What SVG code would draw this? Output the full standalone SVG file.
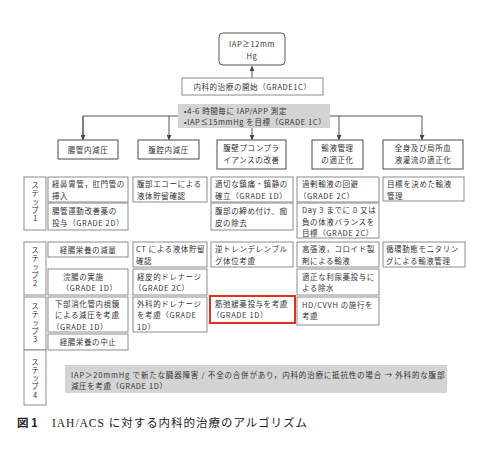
<svg xmlns="http://www.w3.org/2000/svg" width="480" height="456" viewBox="0 0 480 456">
<defs>
<marker id="ah" viewBox="0 0 6 6" refX="6" refY="3" markerWidth="5" markerHeight="5" orient="auto" markerUnits="userSpaceOnUse">
<path d="M0,0 L6,3 L0,6 z" fill="#444"/>
</marker>
<style>
.t{font-family:"Noto Sans CJK JP","Noto Sans",sans-serif;font-size:7.5px;letter-spacing:0.6px;fill:#333}
.m{text-anchor:middle}
.b{fill:#fff;stroke:#8c8c8c;stroke-width:1}
.h{fill:#fff;stroke:#4a4a4a;stroke-width:1}
.g{fill:#d4d4d4;stroke:none}
.r{fill:#fff;stroke:#e0301e;stroke-width:2}
.c{fill:none;stroke:#555;stroke-width:1}
.s{font-family:"Noto Sans CJK JP","Noto Sans",sans-serif;font-size:7.5px;letter-spacing:0.75px;fill:#333;writing-mode:vertical-rl;text-orientation:upright}
</style>
</defs>
<rect width="480" height="456" fill="#fff"/>

<g id="connectors">
<line class="c" x1="252" y1="78" x2="252" y2="66" marker-end="url(#ah)"/>
<polyline class="c" points="83,140 83,116 422,116 422,140" marker-end="url(#ah)"/>
<line class="c" x1="83" y1="116" x2="83" y2="140" marker-end="url(#ah)"/>
<line class="c" x1="169" y1="116" x2="169" y2="140" marker-end="url(#ah)"/>
<line class="c" x1="252" y1="116" x2="252" y2="140" marker-end="url(#ah)"/>
<line class="c" x1="339" y1="116" x2="339" y2="140" marker-end="url(#ah)"/>
</g>

<g id="n-iap">
<rect x="219" y="33" width="66" height="32" rx="4" fill="#fff" stroke="#555" stroke-width="1"/>
<text class="t m" x="252" y="46.5">IAP≥12mm</text>
<text class="t m" x="252" y="58.5">Hg</text>
</g>
<g id="n-start">
<rect class="b" x="182" y="78" width="141" height="17"/>
<text class="t m" x="252.5" y="89.5">内科的治療の開始（GRADE1C）</text>
</g>
<g id="n-monitor">
<rect class="g" x="178" y="104" width="152" height="24"/>
<text class="t" x="184" y="113.5">•4-6 時間毎に IAP/APP 測定</text>
<text class="t" x="184" y="125">•IAP≤15mmHg を目標（GRADE 1C）</text>
</g>

<g id="h1"><rect class="h" x="58" y="140" width="60" height="19"/><text class="t m" x="88" y="152.5">腸管内減圧</text></g>
<g id="h2"><rect class="h" x="138" y="140" width="61" height="19"/><text class="t m" x="168.5" y="152.5">腹腔内減圧</text></g>
<g id="h3"><rect class="h" x="217" y="140" width="69" height="29"/><text class="t m" x="251.5" y="151">腹壁プコンプラ</text><text class="t m" x="251.5" y="163">イアンスの改善</text></g>
<g id="h4"><rect class="h" x="312" y="140" width="51" height="29"/><text class="t m" x="337.5" y="151">輸液管理</text><text class="t m" x="337.5" y="163">の適正化</text></g>
<g id="h5"><rect class="h" x="383" y="140" width="80" height="29"/><text class="t m" x="423" y="151">全身及び局所血</text><text class="t m" x="423" y="163">液灌流の適正化</text></g>

<g id="step1"><rect class="b" x="24" y="177" width="22" height="53"/><text class="s" x="35" y="181.5">ステップ1</text></g>
<g id="step2"><rect class="b" x="24" y="242" width="22" height="53"/><text class="s" x="35" y="246.5">ステップ2</text></g>
<g id="step3"><rect class="b" x="24" y="297" width="22" height="53"/><text class="s" x="35" y="302.5">ステップ3</text></g>
<g id="step4"><rect class="b" x="24" y="350" width="22" height="55"/><text class="s" x="35" y="358">ステップ4</text></g>

<g id="c1s1a"><rect class="b" x="48" y="177" width="80" height="25"/><text class="t" x="52" y="187">経鼻胃管，肛門管の</text><text class="t" x="52" y="198.5">挿入</text></g>
<g id="c1s1b"><rect class="b" x="48" y="203" width="80" height="27"/><text class="t" x="52" y="214">腸管運動改善薬の</text><text class="t" x="52" y="226">投与（GRADE 2D）</text></g>
<g id="c1s2a"><rect class="b" x="48" y="242" width="80" height="15"/><text class="t m" x="88" y="252.5">経腸栄養の減量</text></g>
<g id="c1s2b"><rect class="b" x="48" y="269" width="80" height="26"/><text class="t" x="63" y="279.5">浣腸の実施</text><text class="t" x="61.5" y="291">（GRADE 1D）</text></g>
<g id="c1s3a"><rect class="b" x="48" y="297" width="80" height="35"/><text class="t" x="55" y="306.5">下部消化管内視鏡</text><text class="t" x="55" y="318">による減圧を考慮</text><text class="t" x="52" y="329.5">（GRADE 1D）</text></g>
<g id="c1s3b"><rect class="b" x="48" y="334" width="80" height="16"/><text class="t m" x="88" y="345">経腸栄養の中止</text></g>

<g id="c2s1"><rect class="b" x="133" y="177" width="74" height="25"/><text class="t" x="137" y="187">腹部エコーによる</text><text class="t" x="137" y="198.5">液体貯留確認</text></g>
<g id="c2s2a"><rect class="b" x="133" y="242" width="74" height="25"/><text class="t" x="136" y="252">CT による液体貯留</text><text class="t" x="136" y="263.5">確認</text></g>
<g id="c2s2b"><rect class="b" x="133" y="269" width="74" height="26"/><text class="t" x="137" y="279.5">経皮的ドレナージ</text><text class="t" x="134" y="291">（GRADE 2C）</text></g>
<g id="c2s3"><rect class="b" x="133" y="297" width="74" height="35"/><text class="t" x="137" y="306.5">外科的ドレナージ</text><text class="t" x="137" y="318">を考慮（GRADE</text><text class="t" x="137" y="329.5">1D）</text></g>

<g id="c3s1a"><rect class="b" x="211" y="177" width="82" height="25"/><text class="t" x="215" y="187">適切な鎮痛・鎮静の</text><text class="t" x="215" y="198.5">確立（GRADE 1D）</text></g>
<g id="c3s1b"><rect class="b" x="211" y="203" width="82" height="27"/><text class="t" x="215" y="214">腹部の締め付け、痂</text><text class="t" x="215" y="226">皮の除去</text></g>
<g id="c3s2"><rect class="b" x="211" y="242" width="82" height="25"/><text class="t" x="215" y="252">逆トレンデレンブル</text><text class="t" x="215" y="263.5">グ体位考慮</text></g>
<g id="c3s3"><rect class="r" x="210" y="296" width="85" height="27"/><text class="t" x="215" y="306.5">筋弛緩薬投与を考慮</text><text class="t" x="212" y="318">（GRADE 1D）</text></g>

<g id="c4s1a"><rect class="b" x="297" y="177" width="82" height="25"/><text class="t" x="302" y="187">過剰輸液の回避</text><text class="t" x="299" y="198.5">（GRADE 2C）</text></g>
<g id="c4s1b"><rect class="b" x="297" y="203" width="82" height="35"/><text class="t" x="302" y="213">Day 3 までに 0 又は</text><text class="t" x="302" y="224.5">負の体液バランスを</text><text class="t" x="302" y="236">目標（GRADE 2C）</text></g>
<g id="c4s2a"><rect class="b" x="297" y="242" width="82" height="25"/><text class="t" x="302" y="252">高張液，コロイド製</text><text class="t" x="302" y="263.5">剤による輸液</text></g>
<g id="c4s2b"><rect class="b" x="297" y="269" width="82" height="26"/><text class="t" x="302" y="279.5">適正な利尿薬投与に</text><text class="t" x="302" y="291">よる除水</text></g>
<g id="c4s3"><rect class="b" x="297" y="297" width="82" height="28"/><text class="t" x="302" y="307.5">HD/CVVH の施行を</text><text class="t" x="302" y="319">考慮</text></g>

<g id="c5s1"><rect class="b" x="383" y="177" width="81" height="24"/><text class="t" x="387" y="187">目標を決めた輸液</text><text class="t" x="387" y="198.5">管理</text></g>
<g id="c5s2"><rect class="b" x="383" y="242" width="82" height="25"/><text class="t" x="386" y="252">循環動態モニタリン</text><text class="t" x="386" y="263.5">グによる輸液管理</text></g>

<g id="step4-box">
<rect class="g" x="65" y="365" width="382" height="28"/>
<text class="t" x="71" y="377.5" textLength="374" lengthAdjust="spacing">IAP＞20mmHg で新たな臓器障害 / 不全の合併があり，内科的治療に抵抗性の場合 → 外科的な腹部</text>
<text class="t" x="71" y="389">減圧を考慮（GRADE 1D）</text>
</g>

<g id="caption">
<text x="17" y="427" style="font-family:'Noto Sans CJK JP',sans-serif;font-size:11.5px;font-weight:bold;fill:#222">図 1</text>
<text x="52" y="427" textLength="255" lengthAdjust="spacing" style="font-family:'Liberation Serif','Noto Sans CJK JP',serif;font-size:11.5px;fill:#222">IAH/ACS に対する内科的治療のアルゴリズム</text>
</g>
</svg>
